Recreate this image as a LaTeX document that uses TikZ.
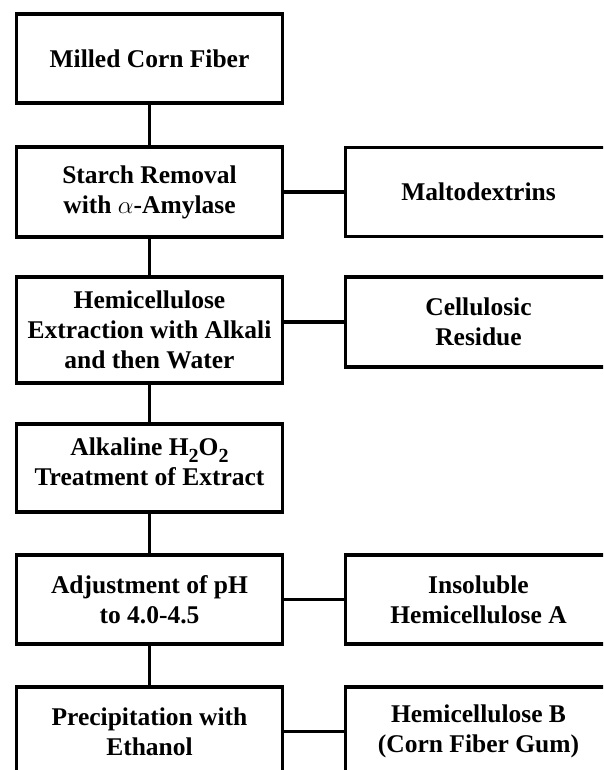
\documentclass[tikz,border=0pt]{standalone}
\usepackage{fontspec}
\setmainfont{Liberation Serif}
\usetikzlibrary{positioning}
\tikzset{stepbox/.style={rectangle,draw=black,line width=3.3pt,outer sep=0pt,minimum width=266pt,minimum height=89pt,align=center,inner sep=2pt,font=\bfseries\fontsize{25.5}{30}\selectfont}}
\tikzset{ln/.style={line width=3.3pt}}
\newcommand{\chemsub}[1]{\raisebox{-7pt}{\fontsize{20}{20}\selectfont #1}}

\begin{document}
\begin{tikzpicture}[node distance=42pt]
\path[use as bounding box] (0,0) rectangle (603pt,-770pt);
\clip (0,0) rectangle (603pt,-770pt);

% main line
\node[stepbox] at (149.5pt,-58.5pt) (mill) {Milled Corn Fiber};
\node[stepbox, below=44pt of mill, minimum height=90pt] (starch) {Starch Removal\\with $\alpha$-Amylase};
\node[stepbox, below=40pt of starch, minimum height=106pt] (extr) {Hemicellulose\\Extraction with Alkali\\and then Water};
\node[stepbox, below=41pt of extr, minimum height=88pt] (perox) {Alkaline H\chemsub{2}O\chemsub{2}\\Treatment of Extract\\[-18pt]\mbox{}};
\node[stepbox, below=43pt of perox] (adj) {Adjustment of pH\\to 4.0-4.5};
\node[stepbox, below=43pt of adj] (prec) {Precipitation with\\Ethanol};

% side products
\node[stepbox, right=63pt of starch] (malto) {Maltodextrins};
\node[stepbox, anchor=north west, minimum height=90pt] at ([xshift=63pt]extr.north east) (cell) {Cellulosic\\Residue};
\node[stepbox, right=63pt of adj] (insol) {Insoluble\\Hemicellulose A};
\node[stepbox, right=63pt of prec] (gum) {Hemicellulose B\\(Corn Fiber Gum)};

\draw[ln] (mill) -- (starch);
\draw[ln] (starch) -- (extr);
\draw[ln] (extr) -- (perox);
\draw[ln] (perox) -- (adj);
\draw[ln] (adj) -- (prec);

\draw[ln] (malto.west) -- (malto.west -| starch.east);
\draw[ln] (cell.west) -- (cell.west -| extr.east);
\draw[ln] (insol.west) -- (insol.west -| adj.east);
\draw[ln] (gum.west) -- (gum.west -| prec.east);

\end{tikzpicture}
\end{document}
